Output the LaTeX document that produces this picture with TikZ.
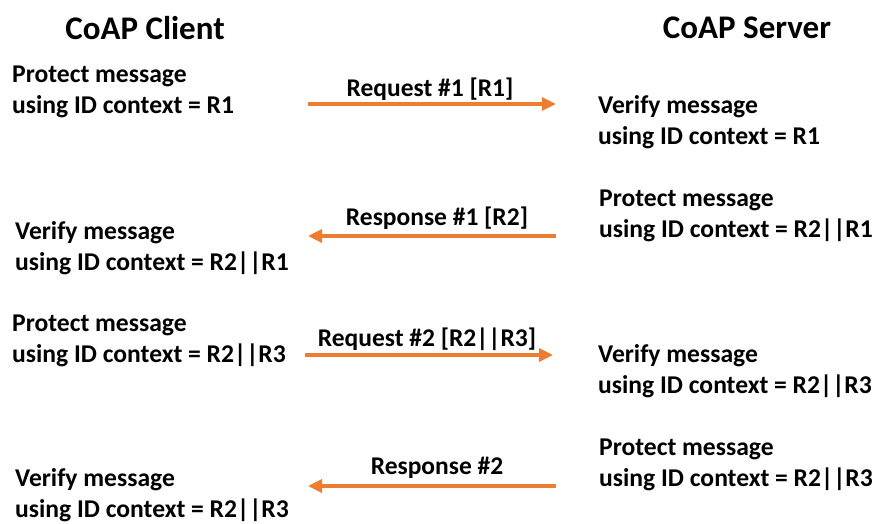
\documentclass[tikz,border=0pt]{standalone}
\usepackage{fontspec}
\setmainfont{Carlito}
\usetikzlibrary{arrows.meta}
\definecolor{msgorange}{HTML}{ED7D31}
\begin{document}
\begin{tikzpicture}[
x=1pt,y=-1pt,
role/.style={anchor=center,inner sep=0,font=\fontsize{33}{38}\selectfont\bfseries},
action/.style={anchor=west,align=left,inner sep=0,font=\fontsize{25.6}{30.5}\selectfont\bfseries},
msgtext/.style={inner sep=0,font=\fontsize{25.5}{30}\selectfont\bfseries},
msg/.style={draw=msgorange,line width=3.3pt,-{Triangle[length=14pt,width=13pt]}},
]
\useasboundingbox(0,0)rectangle(876,523);
%roles
\node[role](client)at(145,28){CoAP Client};
\node[role](server)at(747,28){CoAP Server};

%client side
\node[action](c1)at(12,92){Protect message\\using ID context = R1};
\node[action](c2)at(15,248){Verify message\\using ID context = R2||R1};
\node[action](c3)at(12,341){Protect message\\using ID context = R2||R3};
\node[action](c4)at(15,495){Verify message\\using ID context = R2||R3};

%server side
\node[action](s1)at(598,122){Verify message\\using ID context = R1};
\node[action](s2)at(599,216){Protect message\\using ID context = R2||R1};
\node[action](s3)at(598,371){Verify message\\using ID context = R2||R3};
\node[action](s4)at(599,465){Protect message\\using ID context = R2||R3};

%messages
\coordinate(q1a)at(308,104);\coordinate(q1b)at(556,104);
\coordinate(r1a)at(556,236);\coordinate(r1b)at(308,236);
\coordinate(q2a)at(305,355);\coordinate(q2b)at(553,355);
\coordinate(r2a)at(556,486);\coordinate(r2b)at(308,486);

\draw[msg](q1a)--(q1b);
\node[msgtext](q1)at(430,89){Request \#1 [R1]};
\draw[msg](r1a)--(r1b);
\node[msgtext](r1)at(437,218){Response \#1 [R2]};
\draw[msg](q2a)--(q2b);
\node[msgtext](q2)at(427,339){Request \#2 [R2||R3]};
\draw[msg](r2a)--(r2b);
\node[msgtext](r2)at(437,468){Response \#2};

\end{tikzpicture}
\end{document}
